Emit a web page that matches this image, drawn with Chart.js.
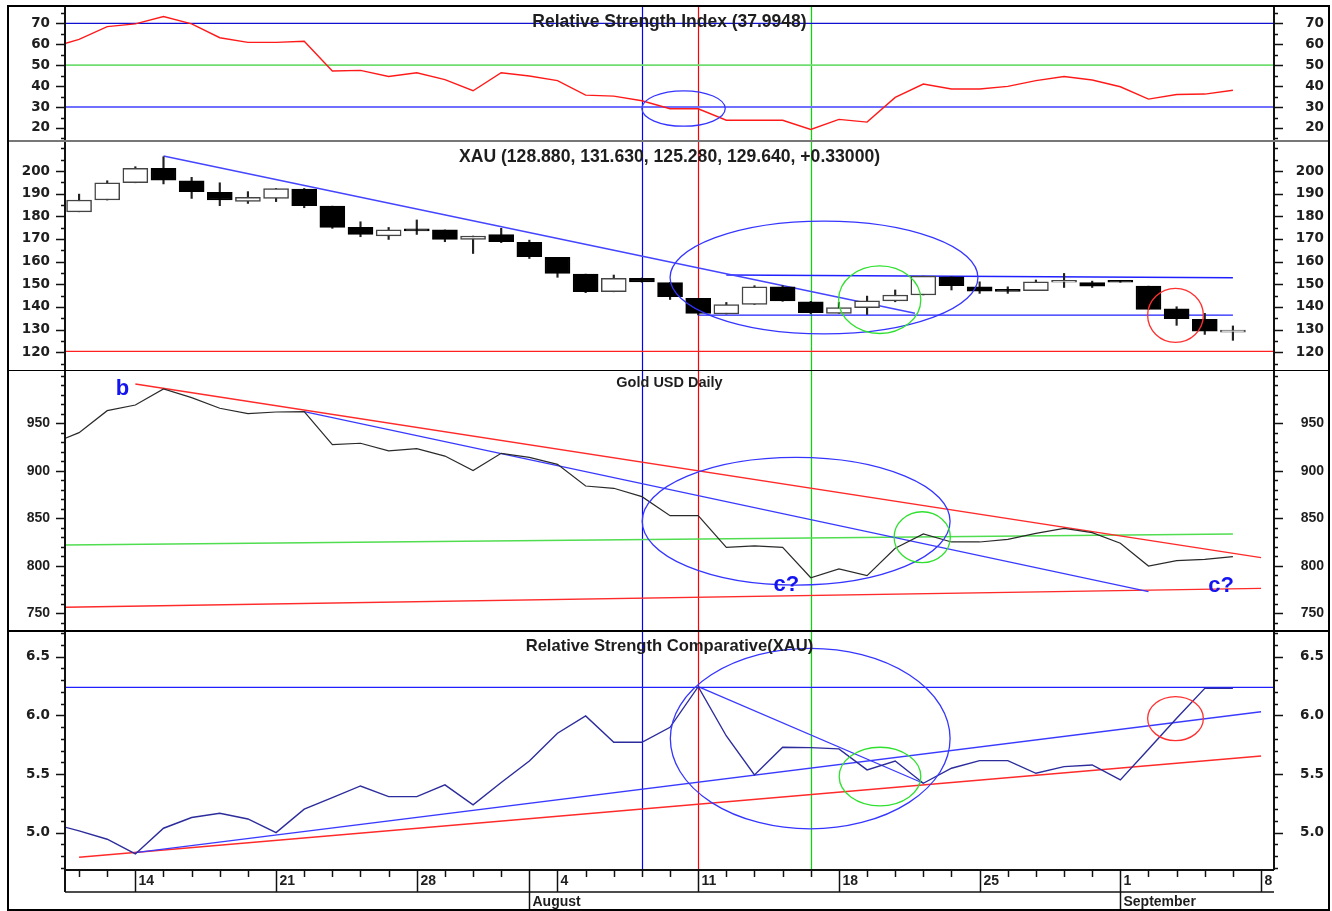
<!DOCTYPE html>
<html>
<head>
<meta charset="utf-8">
<script src="https://cdn.jsdelivr.net/npm/chart.js@4.4.0/dist/chart.umd.min.js"></script>
<style>
  html, body { margin: 0; padding: 0; background: #fff; }
  body { width: 1332px; height: 911px; position: relative; overflow: hidden; }
  canvas { position: absolute; left: 0; }
  #frame { position: absolute; left: 7px; top: 5px; width: 1323px; height: 906px; border: 2px solid #000; box-sizing: border-box; pointer-events: none; z-index: 5; }
  .sep { position: absolute; left: 7px; width: 1323px; z-index: 4; }
</style>
</head>
<body>
<canvas id="rsi" width="1332" height="135" style="top:6px"></canvas>
<canvas id="xau" width="1332" height="228" style="top:142px"></canvas>
<canvas id="gold" width="1332" height="260" style="top:371px"></canvas>
<canvas id="rsc" width="1332" height="279" style="top:632px"></canvas>
<div class="sep" style="top:140px;height:2px;background:#777"></div>
<div class="sep" style="top:370px;height:1px;background:#000"></div>
<div class="sep" style="top:630px;height:2px;background:#000"></div>
<div id="frame"></div>
<script>
// trading days (x value = position in this list)
const dates = [
  '2008-07-09','2008-07-10','2008-07-11','2008-07-14','2008-07-15','2008-07-16','2008-07-17','2008-07-18',
  '2008-07-21','2008-07-22','2008-07-23','2008-07-24','2008-07-25','2008-07-28','2008-07-29','2008-07-30',
  '2008-07-31','2008-08-01','2008-08-04','2008-08-05','2008-08-06','2008-08-07','2008-08-08','2008-08-11',
  '2008-08-12','2008-08-13','2008-08-14','2008-08-15','2008-08-18','2008-08-19','2008-08-20','2008-08-21',
  '2008-08-22','2008-08-25','2008-08-26','2008-08-27','2008-08-28','2008-08-29','2008-09-01','2008-09-02',
  '2008-09-03','2008-09-04','2008-09-05','2008-09-08'
];
const monthNames = ['January','February','March','April','May','June','July','August','September','October','November','December'];

const rsiValues = [58.5, 62.3, 68.4, 69.7, 73.2, 69.7, 63.1, 60.9, 60.9, 61.4, 47.2, 47.5, 44.6, 46.4, 43.1,
  37.8, 46.4, 44.8, 42.6, 35.7, 35.2, 33.0, 29.2, 29.2, 23.7, 23.7, 23.7, 19.3, 24.1, 22.8,
  34.6, 41.0, 38.6, 38.6, 39.9, 42.6, 44.6, 42.9, 39.7, 33.8, 36.0, 36.2, 38.0];

const xauOpen  = [null, 182.0, 187.2, 194.8, 201.2, 195.7, 190.6, 186.6, 187.9, 192.0, 184.5, 175.1, 171.4, 174.3, 174.0,
  169.8, 171.9, 168.5, 161.9, 154.5, 146.7, 152.6, 150.8, 143.8, 136.9, 141.1, 148.9, 142.3, 137.2, 139.7,
  142.7, 145.3, 153.3, 148.9, 147.8, 147.2, 150.9, 150.8, 151.3, 149.2, 139.2, 134.5, 128.88];
const xauHigh  = [null, 189.8, 195.7, 201.9, 206.3, 197.2, 194.8, 190.9, 192.3, 192.3, 184.5, 177.6, 175.1, 178.4, 174.0,
  171.3, 174.7, 169.5, 161.9, 154.5, 154.1, 152.8, 150.8, 143.8, 142.0, 149.4, 149.4, 142.5, 142.0, 144.8,
  147.5, 153.6, 153.4, 151.1, 148.9, 151.9, 154.8, 151.4, 151.3, 149.2, 140.1, 137.2, 131.63];
const xauLow   = [null, 182.0, 187.2, 194.8, 194.3, 187.9, 184.7, 185.7, 186.5, 183.8, 174.7, 171.0, 169.8, 172.0, 168.8,
  163.6, 168.4, 161.4, 153.1, 146.3, 146.7, 150.9, 143.3, 136.5, 136.9, 141.1, 142.5, 137.0, 137.2, 136.7,
  142.3, 145.3, 147.5, 146.0, 146.0, 147.2, 148.6, 148.6, 150.9, 138.9, 131.9, 127.9, 125.28];
const xauClose = [null, 187.2, 194.8, 201.2, 196.0, 190.9, 187.2, 188.4, 192.3, 184.7, 175.1, 172.0, 174.0, 173.6, 169.8,
  171.3, 168.8, 162.2, 154.8, 146.7, 152.6, 151.1, 144.5, 137.2, 141.1, 148.9, 142.7, 137.5, 139.7, 142.7,
  145.3, 153.6, 149.4, 147.0, 146.9, 151.1, 151.1, 149.2, 150.9, 138.9, 134.8, 129.31, 129.64];

const goldClose = [928.0, 940.2, 963.3, 969.3, 986.1, 977.0, 965.8, 960.2, 961.9, 962.3, 927.5, 929.0, 920.9, 923.3, 915.5,
  900.2, 918.4, 914.2, 906.8, 884.0, 881.6, 872.8, 852.8, 852.8, 819.5, 820.9, 819.5, 787.5, 796.7, 789.6,
  818.4, 833.5, 825.1, 825.1, 827.9, 834.2, 839.5, 834.9, 823.7, 799.8, 805.4, 806.8, 809.6];

const rscValues = [5.08, 5.015, 4.944, 4.819, 5.038, 5.129, 5.166, 5.117, 5.001, 5.200, 5.299, 5.398, 5.307, 5.307, 5.407,
  5.237, 5.427, 5.611, 5.847, 5.995, 5.770, 5.770, 5.898, 6.244, 5.824, 5.492, 5.728, 5.725, 5.714, 5.535,
  5.611, 5.421, 5.549, 5.614, 5.614, 5.506, 5.563, 5.577, 5.449, 5.711, 5.975, 6.230, 6.230];

const rsiTicks = [20, 30, 40, 50, 60, 70];
const xauTicks = [120, 130, 140, 150, 160, 170, 180, 190, 200];
const goldTicks = [750, 800, 850, 900, 950];
const rscTicks = [5.0, 5.5, 6.0, 6.5];

// hand drawn lines, [day, value] end points
const rsiLevels = [70, 50, 30];
const xauDownTrend = [[4, 206.6], [30.7, 137.2]];
const xauTop = [[24, 154.1], [42, 152.9]];
const xauBottom = [[23, 136.4], [42, 136.4]];
const xauFloor = [[0, 120.4], [44, 120.4]];
const goldUpper = [[3, 991.4], [43, 808.6]];
const goldMid = [[9, 962.3], [39, 772.8]];
const goldGreen = [[0, 821.8], [42, 833.5]];
const goldLower = [[0, 756.1], [43, 776.3]];
const rscTop = [[0, 6.239], [44, 6.239]];
const rscBlueUp = [[3, 4.83], [43, 6.031]];
const rscRedUp = [[1, 4.791], [43, 5.654]];
const rscFall = [[23, 6.244], [31, 5.421]];

const markerDays = [21, 23, 27];

const series = arr => arr.map((v, i) => ({ x: i, y: v })).filter(p => p.y != null);
const seg = pts => pts.map(([x, y]) => ({ x, y }));
const lineDs = (data, color, width) => ({
  type: 'line', data, borderColor: color, borderWidth: width, pointRadius: 0, fill: false, tension: 0
});

const bigFont = { family: "'DejaVu Sans'", weight: 'bold', size: 13.5 };
const smallFont = { family: "'Liberation Sans'", weight: 'bold', size: 14 };

const decor = {
  rsi: {
    ticks: rsiTicks, minor: 5, title: 'Relative Strength Index (37.9948)', titleSize: 17.5, titleDy: 16,
    ellipses: [{ day: 22.48, value: 29.3, dDays: 1.48, dValue: 8.45, color: '#3535ff' }]
  },
  xau: {
    ticks: xauTicks, minor: 5, title: 'XAU (128.880, 131.630, 125.280, 129.640, +0.33000)', titleSize: 17.6, titleDy: 15,
    ellipses: [
      { day: 27.47, value: 153.0, dDays: 5.47, dValue: 24.9, color: '#3535ff' },
      { day: 29.45, value: 143.2, dDays: 1.46, dValue: 14.9, color: '#30e030' },
      { day: 39.96, value: 136.3, dDays: 0.99, dValue: 11.9, color: '#ff3030' }
    ]
  },
  gold: {
    ticks: goldTicks, minor: 10, title: 'Gold USD Daily', titleSize: 14.5, titleDy: 12,
    ellipses: [
      { day: 26.48, value: 846.9, dDays: 5.47, dValue: 67.2, color: '#3535ff' },
      { day: 30.96, value: 830.1, dDays: 1.0, dValue: 26.8, color: '#30e030' }
    ],
    notes: [
      { text: 'b', day: 2.54, value: 986 },
      { text: 'c?', day: 26.13, value: 779.8 },
      { text: 'c?', day: 41.58, value: 778.7 }
    ]
  },
  rsc: {
    ticks: rscTicks, minor: 0.1, title: 'Relative Strength Comparative(XAU)', titleSize: 16.6, titleDy: 14, xAxis: true,
    ellipses: [
      { day: 26.98, value: 5.802, dDays: 4.97, dValue: 0.769, color: '#3535ff' },
      { day: 29.46, value: 5.478, dDays: 1.45, dValue: 0.25, color: '#30e030' },
      { day: 39.96, value: 5.972, dDays: 0.99, dValue: 0.187, color: '#ff3030' }
    ]
  }
};
const markerColors = ['#0000ff', '#ff0000', '#00dd00'];

const panelDeco = {
  id: 'panelDeco',
  beforeDatasetsDraw(chart) {
    const { ctx, chartArea: a, scales: { x } } = chart;
    ctx.save();
    ctx.lineWidth = 1.2;
    markerDays.forEach((day, k) => {
      const px = Math.round(x.getPixelForValue(day)) + 0.5;
      ctx.strokeStyle = markerColors[k];
      ctx.beginPath(); ctx.moveTo(px, a.top); ctx.lineTo(px, a.bottom); ctx.stroke();
    });
    ctx.restore();
  },
  afterDatasetsDraw(chart) {
    const d = decor[chart.canvas.id];
    const { ctx, chartArea: a, scales: { x, y } } = chart;
    ctx.save();
    ctx.beginPath(); ctx.rect(a.left, a.top, a.right - a.left, a.bottom - a.top); ctx.clip();
    (d.ellipses || []).forEach(e => {
      const cx = x.getPixelForValue(e.day), cy = y.getPixelForValue(e.value);
      const rx = Math.abs(x.getPixelForValue(e.day + e.dDays) - cx);
      const ry = Math.abs(y.getPixelForValue(e.value + e.dValue) - cy);
      ctx.strokeStyle = e.color; ctx.lineWidth = 1.3;
      ctx.beginPath(); ctx.ellipse(cx, cy, rx, ry, 0, 0, Math.PI * 2); ctx.stroke();
    });
    ctx.textAlign = 'center'; ctx.textBaseline = 'middle';
    (d.notes || []).forEach(n => {
      ctx.fillStyle = '#1414f0'; ctx.font = 'bold 22px "Liberation Sans"';
      ctx.fillText(n.text, x.getPixelForValue(n.day), y.getPixelForValue(n.value));
    });
    ctx.fillStyle = '#1e1e1e';
    ctx.font = 'bold ' + d.titleSize + 'px "Liberation Sans"';
    ctx.fillText(d.title, (a.left + a.right) / 2, a.top + d.titleDy);
    ctx.restore();
  },
  afterDraw(chart) {
    const d = decor[chart.canvas.id];
    const { ctx, chartArea: a, scales: { x, y } } = chart;
    ctx.save();
    ctx.strokeStyle = '#111';
    ctx.lineWidth = 2;
    ctx.beginPath();
    ctx.moveTo(a.left, a.top); ctx.lineTo(a.left, a.bottom + (d.xAxis ? 22 : 0));
    ctx.moveTo(a.right, a.top); ctx.lineTo(a.right, a.bottom);
    ctx.stroke();
    ctx.lineWidth = 1.5;
    const k0 = Math.ceil(y.min / d.minor - 1e-9), k1 = Math.floor(y.max / d.minor + 1e-9);
    for (let k = k0; k <= k1; k++) {
      const v = k * d.minor;
      const major = d.ticks.some(t => Math.abs(t - v) < d.minor / 10);
      const len = major ? 9 : 4;
      const py = Math.round(y.getPixelForValue(v)) + 0.5;
      ctx.beginPath();
      ctx.moveTo(a.left - len, py); ctx.lineTo(a.left, py);
      ctx.moveTo(a.right, py); ctx.lineTo(a.right + len, py);
      ctx.stroke();
    }
    if (d.xAxis) {
      const base = a.bottom;
      ctx.lineWidth = 2;
      ctx.beginPath(); ctx.moveTo(a.left, base); ctx.lineTo(a.right, base); ctx.stroke();
      ctx.lineWidth = 1.5;
      ctx.beginPath(); ctx.moveTo(a.left, base + 22); ctx.lineTo(a.right, base + 22); ctx.stroke();
      ctx.fillStyle = '#1e1e1e';
      ctx.textBaseline = 'middle'; ctx.textAlign = 'left';
      ctx.font = 'bold 14px "Liberation Sans"';
      dates.forEach((s, i) => {
        if (i < x.min || i > x.max) return;
        const dt = new Date(s + 'T12:00:00');
        const prev = i > 0 ? new Date(dates[i - 1] + 'T12:00:00') : null;
        const monthStart = prev && prev.getMonth() !== dt.getMonth();
        const monday = dt.getDay() === 1;
        const px = Math.round(x.getPixelForValue(i)) + 0.5;
        const len = monthStart ? 42 : monday ? 22 : 7;
        ctx.beginPath(); ctx.moveTo(px, base); ctx.lineTo(px, base + len); ctx.stroke();
        if (monday) ctx.fillText(String(dt.getDate()), px + 3, base + 11);
        if (monthStart) ctx.fillText(monthNames[dt.getMonth()], px + 3, base + 32);
      });
    }
    ctx.restore();
  }
};

function yAxis(pos, min, max, ticks, fmt, font) {
  return {
    type: 'linear', position: pos, min, max,
    grid: { display: false, drawTicks: false },
    border: { display: false },
    afterFit: s => { s.width = pos === 'left' ? 65 : 50; s.paddingTop = 0; s.paddingBottom = 0; },
    afterBuildTicks: s => { s.ticks = ticks.map(v => ({ value: v })); },
    ticks: {
      autoSkip: false, padding: pos === 'left' ? 15 : 0, crossAlign: pos === 'left' ? 'near' : 'far',
      color: '#1e1e1e', font: font || bigFont,
      callback: v => fmt ? fmt(v) : String(v)
    }
  };
}

function panel(id, datasets, min, max, ticks, fmt, bottom, font) {
  return new Chart(document.getElementById(id), {
    type: 'line',
    data: { datasets },
    options: {
      responsive: false, animation: false,
      layout: { padding: { left: 0, right: 8, top: 0, bottom: bottom || 0 } },
      plugins: { legend: { display: false }, tooltip: { enabled: false } },
      scales: {
        x: { type: 'linear', min: 0.5, max: 43.46, display: false, offset: false },
        y: yAxis('left', min, max, ticks, fmt, font),
        y2: yAxis('right', min, max, ticks, fmt, font)
      }
    },
    plugins: [panelDeco]
  });
}

// RSI
panel('rsi', [
  lineDs(series(rsiValues), '#ff1a1a', 1.4),
  lineDs(seg([[0, rsiLevels[0]], [44, rsiLevels[0]]]), '#1010d0', 1.3),
  lineDs(seg([[0, rsiLevels[1]], [44, rsiLevels[1]]]), '#70dd70', 1.8),
  lineDs(seg([[0, rsiLevels[2]], [44, rsiLevels[2]]]), '#7070ff', 2)
], 13.79, 78.26, rsiTicks);

// XAU candles
const bodies = xauOpen.map((o, i) => o == null ? null : { x: i, y: [o, xauClose[i]] }).filter(Boolean);
const wicks = xauLow.map((l, i) => l == null ? null : { x: i, y: [l, xauHigh[i]] }).filter(Boolean);
panel('xau', [
  {
    type: 'bar', data: bodies, grouped: false, barThickness: 25, minBarLength: 2, borderSkipped: false, borderWidth: 1.5,
    backgroundColor: c => c.raw.y[1] >= c.raw.y[0] ? '#ffffff' : '#000000',
    borderColor: c => c.raw.y[1] >= c.raw.y[0] ? '#444444' : '#000000'
  },
  { type: 'bar', data: wicks, grouped: false, barThickness: 1.5, borderWidth: 0, backgroundColor: '#222222' },
  lineDs(seg(xauDownTrend), '#4545ff', 1.5),
  lineDs(seg(xauTop), '#2020ff', 1.3),
  lineDs(seg(xauBottom), '#2020ff', 1.3),
  lineDs(seg(xauFloor), '#ff2020', 1.2)
], 112.19, 212.8, xauTicks);

// Gold
panel('gold', [
  lineDs(series(goldClose), '#2a2a2a', 1.2),
  lineDs(seg(goldUpper), '#ff2a2a', 1.4),
  lineDs(seg(goldMid), '#3a3aff', 1.4),
  lineDs(seg(goldGreen), '#50dd50', 1.4),
  lineDs(seg(goldLower), '#ff2a2a', 1.4)
], 731.4, 1005.05, goldTicks, null, 0, smallFont);

// Relative strength comparative
panel('rsc', [
  lineDs(series(rscValues), '#2c2c9c', 1.4),
  lineDs(seg(rscTop), '#2020ff', 1.3),
  lineDs(seg(rscBlueUp), '#3a3aff', 1.4),
  lineDs(seg(rscRedUp), '#ff2a2a', 1.4),
  lineDs(seg(rscFall), '#3a3aff', 1.3)
], 4.682, 6.71, rscTicks, v => v.toFixed(1), 41);
</script>
</body>
</html>
